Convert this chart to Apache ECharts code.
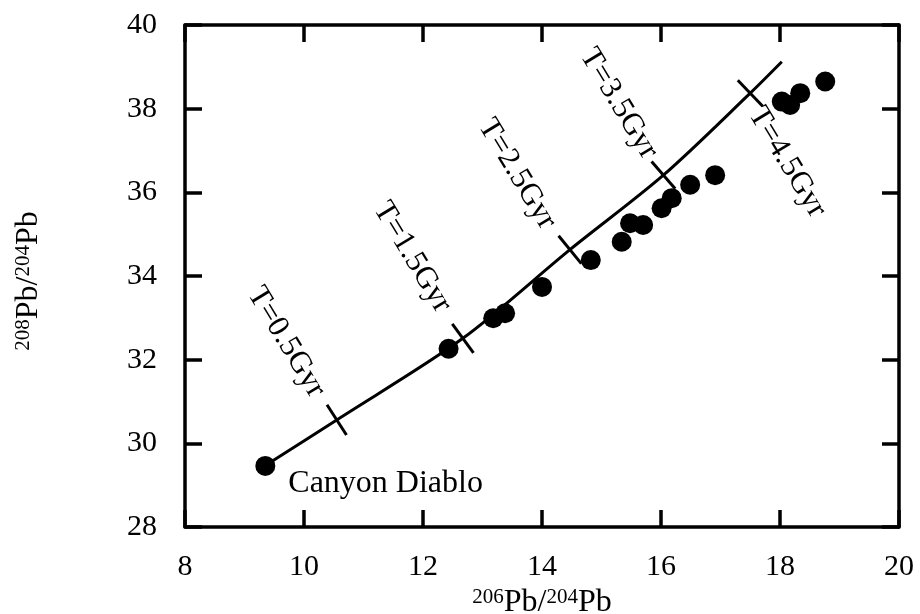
<!DOCTYPE html>
<html>
<head>
<meta charset="utf-8">
<script src="https://cdn.jsdelivr.net/npm/echarts@6/dist/echarts.min.js"></script>
<style>
html,body{margin:0;padding:0;background:#fff;}
#chart{width:920px;height:614px;}
</style>
</head>
<body>
<div id="chart"></div>
<script>
// ---- Data ----
// Measured samples: 206Pb/204Pb (x) and 208Pb/204Pb (y)
var sampleX = [9.35, 12.43, 13.18, 13.38, 14.00, 14.82, 15.34, 15.48, 15.70, 16.01, 16.18, 16.49, 16.91, 18.03, 18.17, 18.34, 18.76];
var sampleY = [29.46, 32.26, 32.99, 33.11, 33.74, 34.38, 34.82, 35.26, 35.22, 35.62, 35.86, 36.18, 36.41, 38.17, 38.09, 38.37, 38.65];
var sampleNames = ['Canyon Diablo', '', '', '', '', '', '', '', '', '', '', '', '', '', '', '', ''];

// Growth curve nodes
var curveX = [9.35, 10.55, 12.67, 14.47, 16.04, 17.50, 18.03];
var curveY = [29.47, 30.56, 32.51, 34.63, 36.41, 38.37, 39.12];

// Age marks on the curve (indices of curve nodes) and their labels
var ageNodeIndex = [1, 2, 3, 4, 5];
var ageLabels = ['T=0.5Gyr', 'T=1.5Gyr', 'T=2.5Gyr', 'T=3.5Gyr', 'T=4.5Gyr'];
var ageLabelX = [9.70, 11.82, 13.58, 15.29, 18.12];
var ageLabelY = [32.42, 34.45, 36.44, 38.12, 36.72];

// Axes
var xMin = 8, xMax = 20, xStep = 2;
var yMin = 28, yMax = 40, yStep = 2;

// ---- Chart ----
var FONT = "'Liberation Serif', 'DejaVu Serif', serif";
var chart = echarts.init(document.getElementById('chart'), null, {renderer: 'canvas'});

var scatterData = sampleX.map(function (x, i) {
  var item = {value: [x, sampleY[i]], name: sampleNames[i]};
  if (sampleNames[i]) {
    item.label = {
      show: true, position: 'right', distance: 13, offset: [0, 18],
      formatter: '{b}', color: '#000', fontFamily: FONT, fontSize: 32
    };
  }
  return item;
});

var curveData = curveX.map(function (x, i) { return [x, curveY[i]]; });
var ageMarkData = ageNodeIndex.map(function (k) { return [curveX[k], curveY[k], k]; });
var ageLabelData = ageLabelX.map(function (x, i) { return {value: [x, ageLabelY[i]], name: ageLabels[i]}; });

var axisLineStyle = {color: '#000', width: 3.5};
var tickStyle = {color: '#000', width: 3.5};
var nameRich = {
  sup: {fontFamily: FONT, fontSize: 21, color: '#000', verticalAlign: 'top', padding: [0, 0, 11, 0]},
  m: {fontFamily: FONT, fontSize: 32, color: '#000'}
};

var option = {
  backgroundColor: '#fff',
  animation: false,
  grid: {left: 185, right: 21, top: 25, bottom: 87, containLabel: false, outerBoundsMode: 'none'},
  xAxis: [{
    type: 'value', min: xMin, max: xMax, interval: xStep, position: 'bottom',
    axisLine: {show: true, lineStyle: axisLineStyle},
    axisTick: {show: true, inside: true, length: 17, lineStyle: tickStyle},
    splitLine: {show: false},
    axisLabel: {color: '#000', fontFamily: FONT, fontSize: 30, margin: 25},
    name: '{sup|206}{m|Pb/}{sup|204}{m|Pb}',
    nameLocation: 'middle', nameGap: 50,
    nameTextStyle: {color: '#000', fontFamily: FONT, rich: nameRich}
  }, {
    type: 'value', min: xMin, max: xMax, interval: xStep, position: 'top',
    axisLine: {show: true, lineStyle: axisLineStyle},
    axisTick: {show: true, inside: true, length: 17, lineStyle: tickStyle},
    splitLine: {show: false}, axisLabel: {show: false}
  }],
  yAxis: [{
    type: 'value', min: yMin, max: yMax, interval: yStep, position: 'left',
    axisLine: {show: true, lineStyle: axisLineStyle},
    axisTick: {show: true, inside: true, length: 17, lineStyle: tickStyle},
    splitLine: {show: false},
    axisLabel: {color: '#000', fontFamily: FONT, fontSize: 30, margin: 28},
    name: '{sup|208}{m|Pb/}{sup|204}{m|Pb}',
    nameLocation: 'middle', nameGap: 140, nameRotate: 90,
    nameTextStyle: {color: '#000', fontFamily: FONT, rich: nameRich, padding: [0, 10, 0, 0]}
  }, {
    type: 'value', min: yMin, max: yMax, interval: yStep, position: 'right',
    axisLine: {show: true, lineStyle: axisLineStyle},
    axisTick: {show: true, inside: true, length: 17, lineStyle: tickStyle},
    splitLine: {show: false}, axisLabel: {show: false}
  }],
  series: [{
    type: 'line', data: curveData, smooth: 0.3, symbol: 'none',
    lineStyle: {color: '#000', width: 3}, z: 2
  }, {
    type: 'custom', data: ageMarkData, z: 3,
    renderItem: function (params, api) {
      var k = api.value(2);
      var c = api.coord([api.value(0), api.value(1)]);
      var p0 = api.coord([curveX[k - 1], curveY[k - 1]]);
      var p1 = api.coord([curveX[k + 1], curveY[k + 1]]);
      var tx = p1[0] - p0[0], ty = p1[1] - p0[1];
      var len = Math.sqrt(tx * tx + ty * ty);
      tx /= len; ty /= len;
      var nx = -ty, ny = tx, L = 18;
      return {
        type: 'line',
        shape: {x1: c[0] - nx * L, y1: c[1] - ny * L, x2: c[0] + nx * L, y2: c[1] + ny * L},
        style: {stroke: '#000', lineWidth: 3}
      };
    }
  }, {
    type: 'scatter', data: ageLabelData, symbolSize: 0, z: 4,
    itemStyle: {opacity: 1},
    label: {
      show: true, position: 'inside', formatter: '{b}', rotate: -58.8,
      color: '#000', fontFamily: FONT, fontSize: 31
    }
  }, {
    type: 'scatter', data: scatterData, symbol: 'circle', symbolSize: 20,
    itemStyle: {color: '#000', opacity: 1}, z: 5
  }]
};
chart.setOption(option);
</script>
</body>
</html>
